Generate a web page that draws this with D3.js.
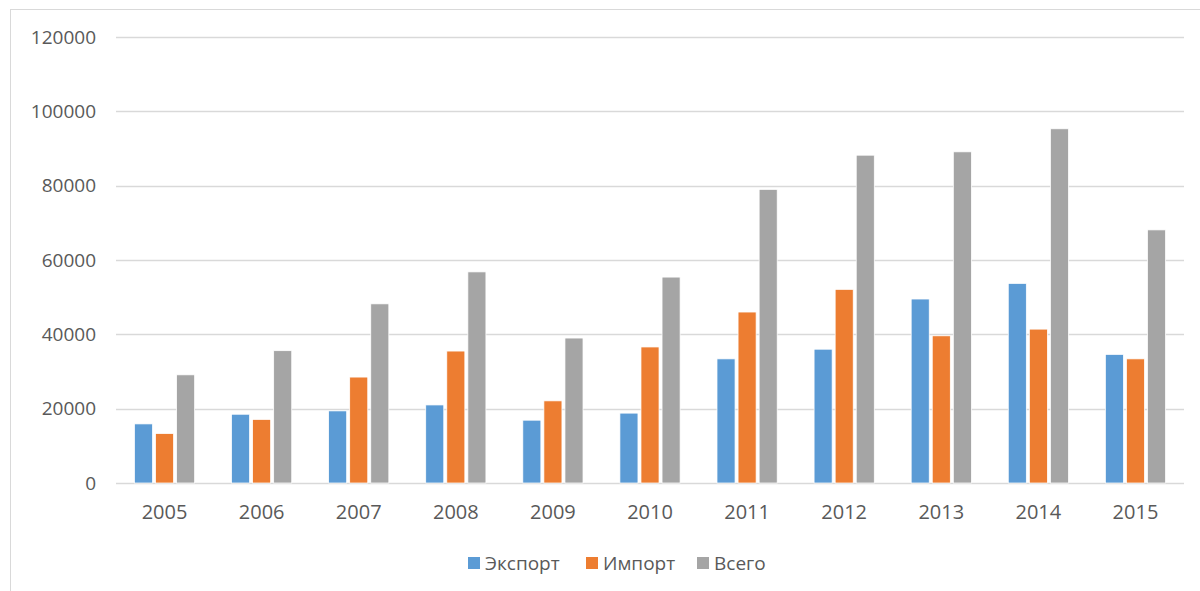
<!DOCTYPE html>
<html>
<head>
<meta charset="utf-8">
<script src="https://cdn.jsdelivr.net/npm/d3@7"></script>
<style>
body { margin: 0; background: #fff; }
text { font-family: "Open Sans", "Liberation Sans", sans-serif; fill: #595959; }
</style>
</head>
<body>
<div id="chart"></div>
<script>
// data
var years = ["2005", "2006", "2007", "2008", "2009", "2010", "2011", "2012", "2013", "2014", "2015"];
var seriesNames = ["Экспорт", "Импорт", "Всего"];
var exportVals = [15900, 18500, 19400, 21000, 16900, 18800, 33400, 36000, 49500, 53700, 34600];
var importVals = [13300, 17100, 28500, 35500, 22100, 36600, 46000, 52100, 39600, 41400, 33400];
var totalVals = [29100, 35600, 48200, 56800, 39000, 55400, 79000, 88200, 89100, 95300, 68100];
var yTicks = [0, 20000, 40000, 60000, 80000, 100000, 120000];
var colours = ["#5b9bd5", "#ed7d31", "#a5a5a5"];

var svgWidth = 1200, svgHeight = 591;
// plot area edges (not "top", that one belongs to window)
var plotLeft = 116, plotRight = 1184, plotTop = 37, plotBottom = 483;

var svg = d3.select("#chart").append("svg").attr("width", svgWidth).attr("height", svgHeight);

// chart border
svg.append("rect")
    .attr("x", 10.5).attr("y", 9.5)
    .attr("width", 1200).attr("height", 600)
    .attr("fill", "none").attr("stroke", "#d9d9d9");

var y = d3.scaleLinear().domain([0, 120000]).range([plotBottom, plotTop]);
var x = d3.scaleBand().domain(years).range([plotLeft, plotRight]).paddingInner(0.38).paddingOuter(0.19);
var xs = d3.scaleBand().domain(seriesNames).range([0, x.bandwidth()]).paddingInner(0.143);

// gridlines
svg.append("g").selectAll("line").data(yTicks).enter().append("line")
    .attr("x1", plotLeft).attr("x2", plotRight)
    .attr("y1", function(d) { return Math.round(y(d)) + 0.5; })
    .attr("y2", function(d) { return Math.round(y(d)) + 0.5; })
    .attr("stroke", "#d9d9d9").attr("stroke-width", 1.5);

// y axis labels
var yAxis = d3.axisLeft(y).tickValues(yTicks).tickSize(0).tickPadding(20).tickFormat(d3.format("d"));
var gy = svg.append("g").attr("transform", "translate(" + plotLeft + ",0)").call(yAxis);
gy.select(".domain").remove();
gy.selectAll("text").style("font-size", "19px").attr("fill", "#595959");

// bars
var allVals = [exportVals, importVals, totalVals];
allVals.forEach(function(vals, s) {
    svg.append("g").selectAll("rect").data(vals).enter().append("rect")
        .attr("x", function(d, i) { return x(years[i]) + xs(seriesNames[s]); })
        .attr("y", function(d) { return y(d); })
        .attr("width", xs.bandwidth())
        .attr("height", function(d) { return y(0) - y(d); })
        .attr("fill", colours[s])
        .attr("stroke", "#fff").attr("stroke-width", 0.75);
});

// x axis labels
var xAxis = d3.axisBottom(x).tickSize(0).tickPadding(22);
var gx = svg.append("g").attr("transform", "translate(0," + plotBottom + ")").call(xAxis);
gx.select(".domain").remove();
gx.selectAll("text").style("font-size", "20px").attr("fill", "#595959");

// legend
var legendX = [468, 586, 697];
seriesNames.forEach(function(name, s) {
    svg.append("rect")
        .attr("x", legendX[s]).attr("y", 557)
        .attr("width", 12).attr("height", 12)
        .attr("fill", colours[s]);
    svg.append("text")
        .attr("x", legendX[s] + 17).attr("y", 563)
        .attr("dy", ".35em")
        .style("font-size", "19px")
        .text(name);
});
</script>
</body>
</html>
